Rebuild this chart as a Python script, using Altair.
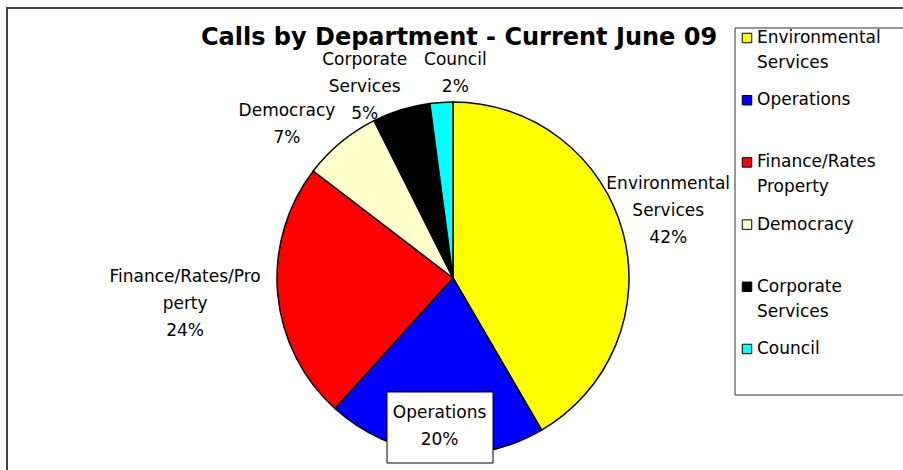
import altair as alt
import pandas as pd

# ---- data ----
depts = ["Environmental Services", "Operations", "Finance/Rates/Property",
         "Democracy", "Corporate Services", "Council"]
values = [41.6, 20.1, 23.7, 7.2, 5.3, 2.1]
colors = ["#FFFF00", "#0000FF", "#FF0000", "#FFFFCC", "#000000", "#00FFFF"]
slice_names = ["Environmental\nServices", "Operations", "Finance/Rates/Pro\nperty",
               "Democracy", "Corporate\nServices", "Council"]
legend_names = ["Environmental\nServices", "Operations", "Finance/Rates\nProperty",
                "Democracy", "Corporate\nServices", "Council"]
title_text = "Calls by Department - Current June 09"

total = sum(values)
df = pd.DataFrame({
    "dept": depts,
    "value": values,
    "idx": list(range(len(depts))),
    "label": [f"{s}\n{round(v / total * 100)}%" for s, v in zip(slice_names, values)],
    "legend": legend_names,
})

FONT = "DejaVu Sans"
FS = 17
CX, CY, R = 447, 271, 176

base = alt.Chart(df)
one = alt.Chart(pd.DataFrame({"k": [0]}))

color = alt.Color("dept:N", scale=alt.Scale(domain=depts, range=colors), legend=None)
theta_scale = alt.Scale(domain=[0, total])

arcs = base.mark_arc(outerRadius=R, stroke="black", strokeWidth=1.5).encode(
    theta=alt.Theta("value:Q", stack=True, scale=theta_scale),
    order=alt.Order("idx:Q"),
    color=color,
    x=alt.value(CX), y=alt.value(CY),
)

lab_base = base.transform_window(
    cum="sum(value)", sort=[alt.SortField("idx")]
).transform_calculate(mid="datum.cum - datum.value / 2")

# per-label radius and small nudges (style)
label_pos = {
    "Environmental Services": (225, -2, -35),
    "Operations": (149, 2, -13),
    "Finance/Rates/Property": (269, 0, -25),
    "Democracy": (226, -22, 7),
    "Corporate Services": (212, -26, -15),
    "Council": (207, 16, -11),
}

label_layers = []
for d in depts:
    r, dx, dy = label_pos[d]
    label_layers.append(
        lab_base.transform_filter(alt.datum.dept == d).mark_text(
            radius=r, dx=dx, dy=dy, font=FONT, fontSize=FS, lineBreak="\n",
            lineHeight=27, align="center", baseline="middle", color="black"
        ).encode(
            theta=alt.Theta("mid:Q", stack=False, scale=theta_scale),
            text="label:N",
            x=alt.value(CX), y=alt.value(CY),
        )
    )

ops_box = one.mark_rect(fill="white", stroke="black", strokeWidth=1).encode(
    x=alt.value(381), x2=alt.value(487), y=alt.value(385), y2=alt.value(456)
)

legend_box = one.mark_rect(fill="white", stroke="#333333", strokeWidth=1).encode(
    x=alt.value(729), x2=alt.value(920), y=alt.value(21), y2=alt.value(388)
)

leg_y = alt.Y("dept:N", scale=alt.Scale(type="point", domain=depts, range=[31, 342], padding=0),
              axis=None)
leg_sq = base.mark_square(size=90, stroke="black", strokeWidth=1, opacity=1).encode(
    x=alt.value(741), y=leg_y, color=color
)
leg_txt = base.mark_text(align="left", baseline="middle", font=FONT, fontSize=FS,
                         lineBreak="\n", lineHeight=25, color="black").encode(
    x=alt.value(751), y=leg_y, text="legend:N"
)

title = one.mark_text(font=FONT, fontSize=24, fontWeight="bold", align="center",
                      baseline="middle", color="black").encode(
    x=alt.value(453), y=alt.value(31), text=alt.value(title_text)
)

top_rule = one.mark_rule(color="#404040", strokeWidth=2).encode(
    x=alt.value(0), x2=alt.value(920), y=alt.value(1)
)
left_rule = one.mark_rule(color="#404040", strokeWidth=2).encode(
    x=alt.value(1), y=alt.value(0), y2=alt.value(480)
)

layers = [arcs] + [l for d, l in zip(depts, label_layers) if d != "Operations"] + \
         [ops_box, label_layers[1], legend_box, leg_sq, leg_txt, title, top_rule, left_rule]

chart = alt.layer(*layers).properties(
    width=897, height=463,
    padding={"left": 6, "top": 7, "right": 0, "bottom": 0},
    autosize="none",
).configure_view(stroke=None)

chart.save("out.html", embed_options={"renderer": "svg", "actions": False})
